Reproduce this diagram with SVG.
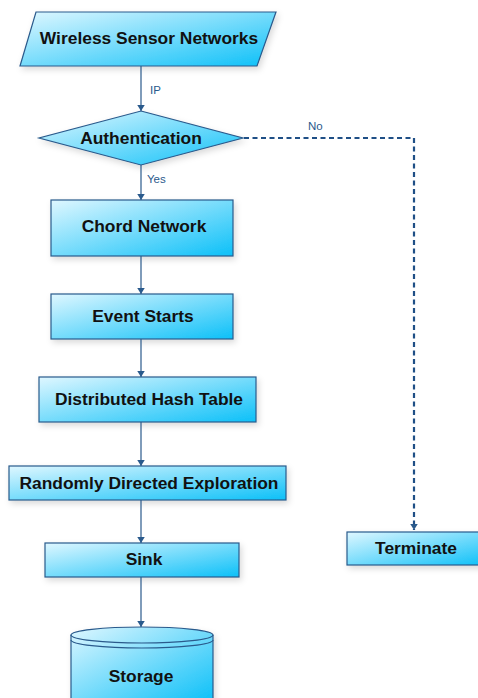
<svg xmlns="http://www.w3.org/2000/svg" width="478" height="698" viewBox="0 0 478 698">
<defs>
<linearGradient id="g" x1="0" y1="0" x2="1" y2="1">
<stop offset="0" stop-color="#dff7ff"/>
<stop offset="1" stop-color="#0cc0f8"/>
</linearGradient>
<marker id="ah" viewBox="0 0 8 10" refX="8" refY="5" markerWidth="6" markerHeight="7.5" orient="auto" markerUnits="userSpaceOnUse">
<path d="M0,0 L8,5 L0,10 z" fill="#2a5a8c"/>
</marker>
<filter id="sh" x="-10%" y="-10%" width="130%" height="140%">
<feDropShadow dx="2" dy="3" stdDeviation="3" flood-color="#000" flood-opacity="0.15"/>
</filter>
</defs>
<style>
.n{fill:url(#g);stroke:#2a5a8c;stroke-width:1.2;filter:url(#sh)}
.t{font-family:"Liberation Sans",Arial,sans-serif;font-weight:bold;font-size:17.4px;fill:#111;text-anchor:middle;dominant-baseline:central}
.c{fill:none;stroke:#2a5a8c;stroke-width:1.2}
.d{fill:none;stroke:#1f4f86;stroke-width:2.2;stroke-dasharray:5,3.5}
.l{font-family:"Liberation Sans",Arial,sans-serif;font-size:11.5px;fill:#2a5a8c}
</style>
<g id="wsn"><polygon class="n" points="36,12 276,12 257,66 20,66"/><text class="t" x="149" y="38">Wireless Sensor Networks</text></g>
<g id="auth"><polygon class="n" points="141,111 243,138 141,165 39,138"/><text class="t" x="141" y="138">Authentication</text></g>
<g id="chord"><rect class="n" x="51" y="200" width="182" height="56"/><text class="t" x="144" y="226">Chord Network</text></g>
<g id="event"><rect class="n" x="51" y="294" width="182" height="45"/><text class="t" x="143" y="316">Event Starts</text></g>
<g id="dht"><rect class="n" x="39" y="377" width="217" height="45"/><text class="t" x="149" y="399">Distributed Hash Table</text></g>
<g id="rde"><rect class="n" x="9" y="466" width="277" height="34"/><text class="t" x="149" y="483">Randomly Directed Exploration</text></g>
<g id="sink"><rect class="n" x="45" y="543" width="194" height="34"/><text class="t" x="144" y="559">Sink</text></g>
<g id="storage">
<path class="n" d="M71,635 A71,8 0 0 1 213,635 L213,702 L71,702 Z"/>
<path class="c" d="M71,635 A71,8 0 0 0 213,635"/>
<path class="c" d="M71,640 A71,8 0 0 0 213,640"/>
<text class="t" x="141" y="676">Storage</text>
</g>
<g id="term"><rect class="n" x="347" y="532" width="140" height="33"/><text class="t" x="416" y="548">Terminate</text></g>
<g id="connectors">
<line class="c" x1="141" y1="66" x2="141" y2="111" marker-end="url(#ah)"/>
<text class="l" x="150" y="94">IP</text>
<line class="c" x1="141" y1="165" x2="141" y2="200" marker-end="url(#ah)"/>
<text class="l" x="147" y="183">Yes</text>
<line class="c" x1="141" y1="256" x2="141" y2="294" marker-end="url(#ah)"/>
<line class="c" x1="141" y1="339" x2="141" y2="377" marker-end="url(#ah)"/>
<line class="c" x1="141" y1="422" x2="141" y2="466" marker-end="url(#ah)"/>
<line class="c" x1="141" y1="500" x2="141" y2="543" marker-end="url(#ah)"/>
<line class="c" x1="141" y1="577" x2="141" y2="627" marker-end="url(#ah)"/>
<polyline class="d" points="244,138 414,138 414,530" marker-end="url(#ah)"/>
<text class="l" x="308" y="130">No</text>
</g>
</svg>
